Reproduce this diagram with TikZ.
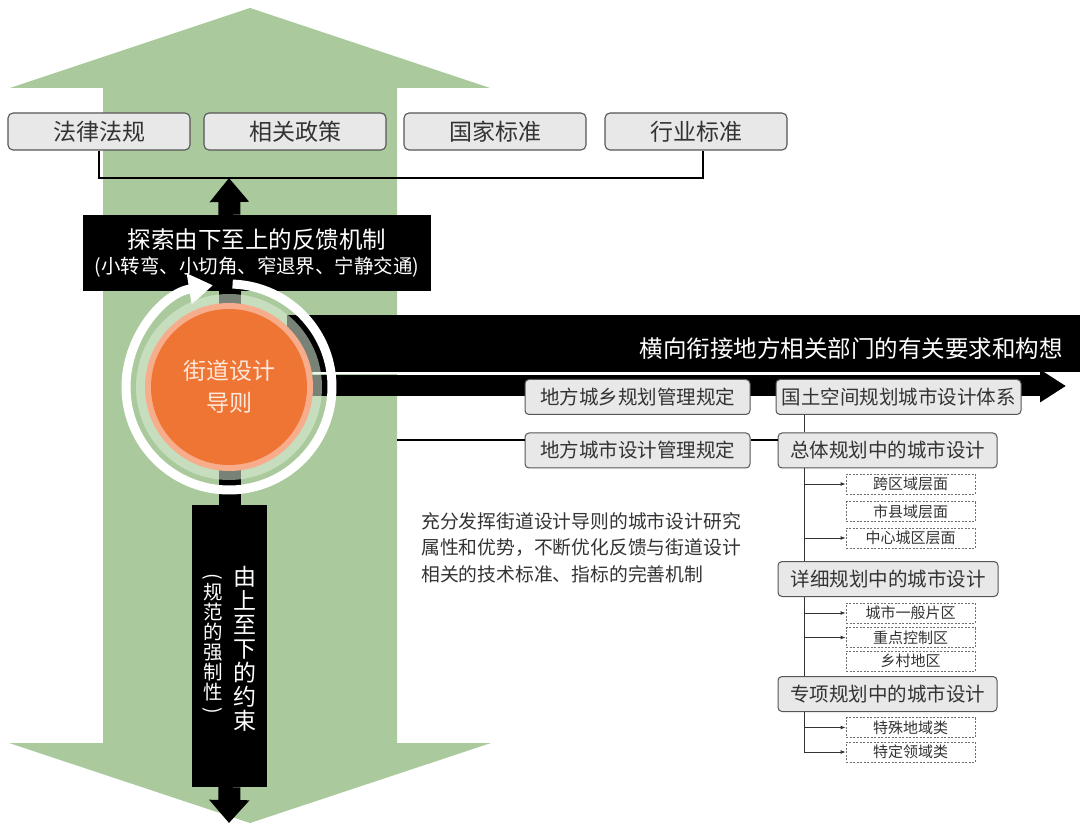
\documentclass[tikz,border=0pt]{standalone}
\usepackage{fontspec}
\setmainfont{Noto Sans CJK SC}
\usetikzlibrary{arrows.meta}
\definecolor{arrowgreen}{RGB}{170,202,157}
\definecolor{boxfill}{RGB}{232,232,232}
\definecolor{boxline}{RGB}{85,85,85}
\definecolor{boxtext}{RGB}{51,51,51}
\definecolor{dashline}{RGB}{110,110,110}
\definecolor{guideorange}{RGB}{238,117,52}
\definecolor{salmon}{RGB}{247,172,140}
\definecolor{ringgreen}{RGB}{222,238,218}
\definecolor{guidetext}{RGB}{253,232,220}
\begin{document}
\begin{tikzpicture}[x=1pt,y=-1pt,
    topbox/.style={draw=boxline, line width=1.1pt, fill=boxfill, rounded corners=5pt, minimum width=182pt, minimum height=37pt, inner sep=0pt, text=boxtext, font=\fontsize{23}{23}\selectfont},
    planbox/.style={draw=boxline, line width=1pt, fill=boxfill, rounded corners=4pt, minimum height=35pt, inner sep=0pt, text=boxtext, font=\fontsize{19.5}{19.5}\selectfont},
    levelbox/.style={draw=dashline, line width=0.8pt, dash pattern=on 2pt off 1.5pt, fill=white, minimum width=129pt, minimum height=20pt, inner sep=0pt, text=boxtext, font=\fontsize{15}{15}\selectfont},
    tick/.style={draw=boxtext, line width=0.9pt, -{Latex[length=5pt,width=4pt]}}]
    \useasboundingbox (0,0) rectangle (1080,834);
    \fill[arrowgreen] (250,8) -- (490,88) -- (397,88) -- (397,743) -- (491,743) -- (250,823) -- (9,743) -- (103,743) -- (103,88) -- (10,88) -- cycle;
    \node[topbox] (law) at (99,131.5) {法律法规};
    \node[topbox] (policy) at (295,131.5) {相关政策};
    \node[topbox] (national) at (495,131.5) {国家标准};
    \node[topbox] (industry) at (696,131.5) {行业标准};
    \draw[line width=2pt] (law.south) -- ++(0,27) -| ([xshift=7pt]industry.south);
    \node[fill=black, minimum width=348pt, minimum height=76pt, inner sep=0pt, text=white, align=center] (feedback) at (257,253) {\fontsize{23.5}{30}\selectfont 探索由下至上的反馈机制\\[6pt]\fontsize{19.5}{30}\selectfont (小转弯、小切角、窄退界、宁静交通)};
    \node[fill=black, minimum width=75pt, minimum height=282pt, inner sep=0pt] (constraint) at (229.5,646) {};
    \node[text=white, align=center, font=\fontsize{23}{24}\selectfont, inner sep=0pt] (topdown) at (245,649) {由\\上\\至\\下\\的\\约\\束};
    \node[text=white, align=center, font=\fontsize{19.5}{20}\selectfont, inner sep=0pt] (mandatory) at (213,645) {\rotatebox[origin=c]{-90}{(}\\[-3pt]规\\范\\的\\强\\制\\性\\[-3pt]\rotatebox[origin=c]{-90}{)}};
    \coordinate (hub) at (229,387);
    \coordinate (upTip) at (229,178);
    \coordinate (downTip) at (229,823);
    \coordinate (rightTip) at (1066,386);
    \draw[line width=22pt] (feedback.south -| constraint.north) -- (constraint.north);
    \draw[line width=22pt, -{Triangle[length=24pt,width=38pt]}] (feedback.north -| constraint.north) -- (upTip);
    \draw[line width=22pt, -{Triangle[length=23pt,width=39pt]}] (constraint.south) -- (downTip);
    \fill (287,315) rectangle (1080,372);
    \node[text=white, anchor=east, inner sep=0pt, font=\fontsize{23.5}{23.5}\selectfont] (lateral) at (1063,349) {横向衔接地方相关部门的有关要求和构想};
    \draw[line width=21pt, -{Triangle[length=26pt,width=31pt]}] (hub |- rightTip) -- (rightTip);
    \draw[white, line width=1.2pt] (313,373) -- (1040,373);
    \draw[white, line width=9pt, -{Triangle[length=24pt,width=30pt]}] (hub) ++(-88:103) arc[start angle=-88, end angle=261, radius=103];
    \fill[ringgreen, opacity=0.55] (hub) circle[radius=93];
    \fill[salmon] (hub) circle[radius=84];
    \node[circle, fill=guideorange, minimum size=156pt, inner sep=0pt, text=guidetext, align=center, font=\fontsize{23}{32}\selectfont] (guide) at (hub) {街道设计\\导则};
    \node[planbox, minimum width=225pt] (ruralcode) at (637.5,397) {地方城乡规划管理规定};
    \node[planbox, minimum width=245pt] (spatial) at (898.5,397) {国土空间规划城市设计体系};
    \node[planbox, minimum width=225pt] (designcode) at (637.5,450.5) {地方城市设计管理规定};
    \node[planbox, minimum width=219pt] (overall) at (887.5,450.5) {总体规划中的城市设计};
    \node[planbox, minimum width=220pt] (detailed) at (888,579) {详细规划中的城市设计};
    \node[planbox, minimum width=219pt] (special) at (887.5,694) {专项规划中的城市设计};
    \node[levelbox] (crossregion) at (910.5,484) {跨区域层面};
    \node[levelbox] (county) at (910.5,511.5) {市县域层面};
    \node[levelbox] (centralcity) at (910.5,538) {中心城区层面};
    \node[levelbox] (generalarea) at (910.5,613) {城市一般片区};
    \node[levelbox] (keyarea) at (910.5,637.5) {重点控制区};
    \node[levelbox] (village) at (910.5,661) {乡村地区};
    \node[levelbox] (specialregion) at (910.5,727.5) {特殊地域类};
    \node[levelbox] (specialfield) at (910.5,752) {特定领域类};
    \coordinate (spine) at (804,415);
    \coordinate (shaftEdge) at (397,440);
    \draw[line width=1.5pt] (shaftEdge) -- (shaftEdge -| designcode.west);
    \draw[line width=1.5pt] (designcode.east |- shaftEdge) -- (overall.west |- shaftEdge);
    \draw[boxtext, line width=1pt] (spine) -- (spine |- overall.north);
    \draw[boxtext, line width=1pt] (spine |- overall.south) -- (spine |- detailed.north);
    \draw[boxtext, line width=1pt] (spine |- detailed.south) -- (spine |- special.north);
    \draw[boxtext, line width=1pt] (spine |- special.south) -- (spine |- specialfield.west);
    \draw[tick] (spine |- crossregion.west) -- (crossregion.west);
    \draw[tick] (spine |- centralcity.west) -- (centralcity.west);
    \draw[tick] (spine |- generalarea.west) -- (generalarea.west);
    \draw[tick] (spine |- keyarea.west) -- (keyarea.west);
    \draw[tick] (spine |- specialregion.west) -- (specialregion.west);
    \draw[tick] (spine |- specialfield.west) -- (specialfield.west);
    \node[anchor=north west, align=left, text=boxtext, inner sep=0pt, font=\fontsize{18.8}{26.5}\selectfont] (note) at (421,512) {充分发挥街道设计导则的城市设计研究\\属性和优势，不断优化反馈与街道设计\\相关的技术标准、指标的完善机制};
\end{tikzpicture}
\end{document}
